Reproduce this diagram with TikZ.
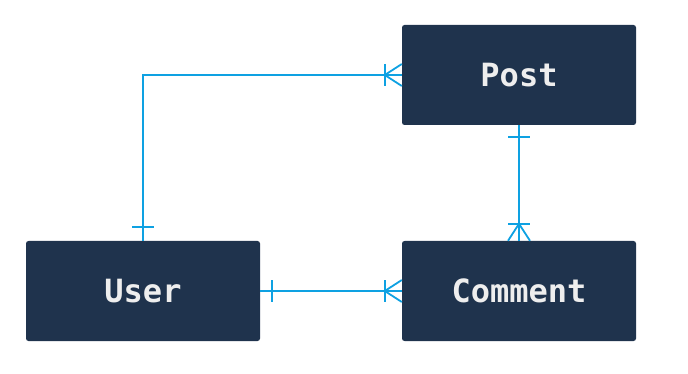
\documentclass[tikz,border=0pt]{standalone}
\usepackage{fontspec}
\setmonofont{DejaVu Sans Mono}
\usetikzlibrary{calc}
\definecolor{boxbg}{HTML}{1F334D}
\definecolor{boxtxt}{HTML}{EEEEEE}
\definecolor{link}{HTML}{0EA1E2}
\begin{document}
\begin{tikzpicture}[x=1pt,y=-1pt,
  entity/.style={fill=boxbg, rounded corners=2.5pt, minimum width=234pt, minimum height=100pt,
    inner sep=0pt, text=boxtxt, font=\ttfamily\bfseries\fontsize{32}{36}\selectfont},
  rel/.style={draw=link, line width=1.8pt}]
\useasboundingbox (0,0) rectangle (688,374);
\node[entity] (post) at (519,75) {\raisebox{-1.5pt}{Post}};
\node[entity] (user) at (143,291) {\raisebox{-1.5pt}{User}};
\node[entity] (comment) at (519,291) {\raisebox{-1.5pt}{Comment}};
% User -- Post
\draw[rel] (user.north) |- (post.west);
\draw[rel] ($(user.north)+(-11,-14)$) -- ($(user.north)+(11,-14)$);
\draw[rel] ($(post.west)+(-17,-11)$) -- ($(post.west)+(-17,11)$);
\draw[rel] ($(post.west)+(0,-11)$) -- ($(post.west)+(-17,0)$) -- ($(post.west)+(0,11)$);
% Post -- Comment
\draw[rel] (post.south) -- (comment.north);
\draw[rel] ($(post.south)+(-11,12)$) -- ($(post.south)+(11,12)$);
\draw[rel] ($(comment.north)+(-11,-17)$) -- ($(comment.north)+(11,-17)$);
\draw[rel] ($(comment.north)+(-11,0)$) -- ($(comment.north)+(0,-17)$) -- ($(comment.north)+(11,0)$);
% User -- Comment
\draw[rel] (user.east) -- (comment.west);
\draw[rel] ($(user.east)+(12,-11)$) -- ($(user.east)+(12,11)$);
\draw[rel] ($(comment.west)+(-17,-11)$) -- ($(comment.west)+(-17,11)$);
\draw[rel] ($(comment.west)+(0,-11)$) -- ($(comment.west)+(-17,0)$) -- ($(comment.west)+(0,11)$);
\end{tikzpicture}
\end{document}
